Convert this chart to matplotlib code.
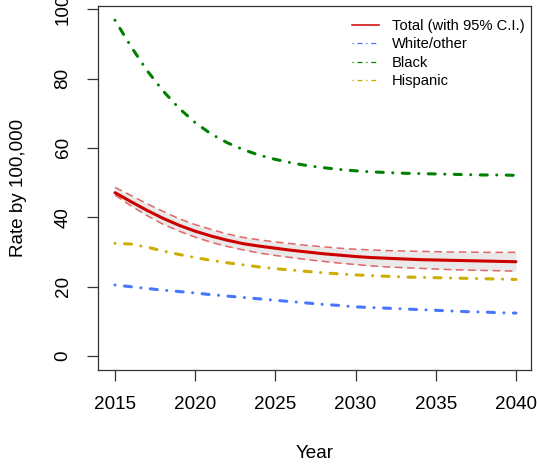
import matplotlib
matplotlib.use('Agg')
import matplotlib.pyplot as plt
from matplotlib.lines import Line2D

plt.rcParams['font.family'] = ['Liberation Sans', 'DejaVu Sans']

years = list(range(2015, 2041))

# projected rates per 100,000
total = [47.1, 44.5, 42.0, 39.7, 37.7, 36.0, 34.6, 33.4, 32.4, 31.7, 31.1, 30.5, 30.0,
         29.5, 29.1, 28.7, 28.4, 28.2, 28.0, 27.8, 27.7, 27.6, 27.5, 27.4, 27.3, 27.2]
total_hi = [48.6, 46.3, 43.9, 41.7, 39.6, 37.9, 36.5, 35.2, 34.2, 33.5, 32.9, 32.4, 31.9,
            31.5, 31.1, 30.8, 30.6, 30.4, 30.3, 30.2, 30.1, 30.0, 30.0, 29.9, 29.9, 29.9]
total_lo = [46.4, 43.3, 40.5, 38.0, 36.0, 34.3, 32.8, 31.6, 30.6, 29.7, 29.0, 28.4, 27.8,
            27.3, 26.8, 26.4, 26.0, 25.7, 25.5, 25.3, 25.1, 24.9, 24.8, 24.7, 24.6, 24.5]
white = [20.5, 20.0, 19.5, 19.0, 18.6, 18.2, 17.7, 17.3, 16.9, 16.5, 16.1, 15.7, 15.3,
         14.9, 14.6, 14.2, 14.0, 13.8, 13.6, 13.4, 13.2, 13.0, 12.8, 12.7, 12.5, 12.4]
black = [96.8, 89.2, 82.3, 76.4, 71.4, 67.3, 64.0, 61.5, 59.5, 57.9, 56.7, 55.7, 54.9,
         54.3, 53.8, 53.4, 53.1, 52.9, 52.7, 52.6, 52.5, 52.4, 52.3, 52.2, 52.2, 52.1]
hispanic = [32.5, 32.3, 31.4, 30.3, 29.3, 28.4, 27.6, 26.9, 26.3, 25.7, 25.2, 24.8, 24.4,
            24.0, 23.7, 23.4, 23.2, 23.0, 22.8, 22.7, 22.6, 22.5, 22.4, 22.3, 22.2, 22.1]

RED = '#cd0000'
CI_RED = '#e06666'
BLUE = '#4876ff'
GREEN = '#008000'
GOLD = '#cdad00'
DOTDASH = (0.01, 3.1, 2.3, 3.1)

fig = plt.figure(figsize=(5.37, 4.66), dpi=100)
ax = fig.add_axes([98 / 537, 96 / 466, 433 / 537, 364 / 466])

ax.fill_between(years, total_lo, total_hi, color='#e9e9e9', lw=0)
ax.plot(years, total_hi, color=CI_RED, lw=1.1, dashes=(5, 3))
ax.plot(years, total_lo, color=CI_RED, lw=1.1, dashes=(5, 3))
ax.plot(years, total, color=RED, lw=2.2, solid_capstyle='round')

for vals, col in [(white, BLUE), (black, GREEN), (hispanic, GOLD)]:
    ax.plot(years, vals, color=col, lw=2.2, dashes=DOTDASH,
            dash_capstyle='round')

ax.set_xlim(2013.94, 2040.94)
ax.set_ylim(-4.0, 100.9)
ax.set_xticks(range(2015, 2041, 5))
ax.set_yticks(range(0, 101, 20))

for sp in ax.spines.values():
    sp.set_color('#333333')
    sp.set_linewidth(0.9)
ax.tick_params(length=8, width=0.9, color='#333333', labelsize=13.6, pad=11)
ax.tick_params(axis='y', labelrotation=90)
for lab in ax.get_yticklabels():
    lab.set_va('center')

ax.set_xlabel('Year', fontsize=13.6)
ax.xaxis.set_label_coords(0.5, -0.205)
ax.set_ylabel('Rate by 100,000', fontsize=13.6)
ax.yaxis.set_label_coords(-0.165, 0.5)

handles = [
    Line2D([], [], color=RED, lw=1.1),
    Line2D([], [], color=BLUE, lw=0.9, dashes=(1, 3, 4, 3)),
    Line2D([], [], color=GREEN, lw=0.9, dashes=(1, 3, 4, 3)),
    Line2D([], [], color=GOLD, lw=0.9, dashes=(1, 3, 4, 3)),
]
labels = ['Total (with 95% C.I.)', 'White/other', 'Black', 'Hispanic']
fig.legend(handles, labels, loc='upper left', bbox_to_anchor=(352 / 537, 1 - 19 / 466),
           frameon=False, fontsize=10.6, borderpad=0, borderaxespad=0,
           handlelength=1.85, handletextpad=0.85, labelspacing=0.3)

fig.savefig('out.png', dpi=100)
